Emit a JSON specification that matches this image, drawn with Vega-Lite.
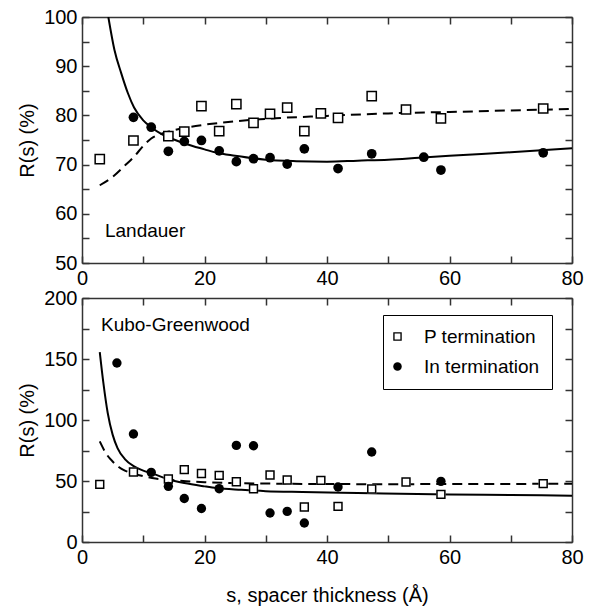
{
  "$schema": "https://vega.github.io/schema/vega-lite/v6.json",
  "padding": {"left": 17, "top": 7, "right": 17, "bottom": 5},
  "bounds": "flush",
  "spacing": 35,
  "datasets": {
    "pts": [
      {"p": "L", "series": "P termination", "s": 2.9, "R": 71.1},
      {"p": "L", "series": "P termination", "s": 8.4, "R": 74.9},
      {"p": "L", "series": "P termination", "s": 14.1, "R": 75.8},
      {"p": "L", "series": "P termination", "s": 16.7, "R": 76.7},
      {"p": "L", "series": "P termination", "s": 19.5, "R": 81.9},
      {"p": "L", "series": "P termination", "s": 22.4, "R": 76.8},
      {"p": "L", "series": "P termination", "s": 25.2, "R": 82.3},
      {"p": "L", "series": "P termination", "s": 28.0, "R": 78.5},
      {"p": "L", "series": "P termination", "s": 30.7, "R": 80.3},
      {"p": "L", "series": "P termination", "s": 33.5, "R": 81.6},
      {"p": "L", "series": "P termination", "s": 36.3, "R": 76.8},
      {"p": "L", "series": "P termination", "s": 39.0, "R": 80.4},
      {"p": "L", "series": "P termination", "s": 41.8, "R": 79.5},
      {"p": "L", "series": "P termination", "s": 47.3, "R": 83.9},
      {"p": "L", "series": "P termination", "s": 52.9, "R": 81.2},
      {"p": "L", "series": "P termination", "s": 58.6, "R": 79.4},
      {"p": "L", "series": "P termination", "s": 75.3, "R": 81.4},
      {"p": "L", "series": "In termination", "s": 8.4, "R": 79.6},
      {"p": "L", "series": "In termination", "s": 11.3, "R": 77.6},
      {"p": "L", "series": "In termination", "s": 14.1, "R": 72.7},
      {"p": "L", "series": "In termination", "s": 16.7, "R": 74.7},
      {"p": "L", "series": "In termination", "s": 19.5, "R": 74.9},
      {"p": "L", "series": "In termination", "s": 22.4, "R": 72.8},
      {"p": "L", "series": "In termination", "s": 25.2, "R": 70.6},
      {"p": "L", "series": "In termination", "s": 28.0, "R": 71.2},
      {"p": "L", "series": "In termination", "s": 30.7, "R": 71.4},
      {"p": "L", "series": "In termination", "s": 33.5, "R": 70.1},
      {"p": "L", "series": "In termination", "s": 36.3, "R": 73.2},
      {"p": "L", "series": "In termination", "s": 41.8, "R": 69.2},
      {"p": "L", "series": "In termination", "s": 47.3, "R": 72.2},
      {"p": "L", "series": "In termination", "s": 55.8, "R": 71.5},
      {"p": "L", "series": "In termination", "s": 58.6, "R": 68.9},
      {"p": "L", "series": "In termination", "s": 75.3, "R": 72.4},
      {"p": "K", "series": "P termination", "s": 2.9, "R": 47.2},
      {"p": "K", "series": "P termination", "s": 8.4, "R": 57.4},
      {"p": "K", "series": "P termination", "s": 14.1, "R": 51.6},
      {"p": "K", "series": "P termination", "s": 16.7, "R": 59.3},
      {"p": "K", "series": "P termination", "s": 19.5, "R": 56.2},
      {"p": "K", "series": "P termination", "s": 22.4, "R": 54.6},
      {"p": "K", "series": "P termination", "s": 25.2, "R": 49.4},
      {"p": "K", "series": "P termination", "s": 28.0, "R": 43.7},
      {"p": "K", "series": "P termination", "s": 30.7, "R": 54.9},
      {"p": "K", "series": "P termination", "s": 33.5, "R": 50.8},
      {"p": "K", "series": "P termination", "s": 36.3, "R": 28.7},
      {"p": "K", "series": "P termination", "s": 39.0, "R": 50.5},
      {"p": "K", "series": "P termination", "s": 41.8, "R": 29.2},
      {"p": "K", "series": "P termination", "s": 47.3, "R": 43.4},
      {"p": "K", "series": "P termination", "s": 52.9, "R": 49.2},
      {"p": "K", "series": "P termination", "s": 58.6, "R": 39.0},
      {"p": "K", "series": "P termination", "s": 75.3, "R": 47.8},
      {"p": "K", "series": "In termination", "s": 5.7, "R": 146.7},
      {"p": "K", "series": "In termination", "s": 8.4, "R": 88.5},
      {"p": "K", "series": "In termination", "s": 11.3, "R": 57.1},
      {"p": "K", "series": "In termination", "s": 14.1, "R": 45.6},
      {"p": "K", "series": "In termination", "s": 16.7, "R": 35.7},
      {"p": "K", "series": "In termination", "s": 19.5, "R": 27.5},
      {"p": "K", "series": "In termination", "s": 22.4, "R": 43.7},
      {"p": "K", "series": "In termination", "s": 25.2, "R": 79.2},
      {"p": "K", "series": "In termination", "s": 28.0, "R": 78.9},
      {"p": "K", "series": "In termination", "s": 30.7, "R": 23.8},
      {"p": "K", "series": "In termination", "s": 33.5, "R": 25.1},
      {"p": "K", "series": "In termination", "s": 36.3, "R": 15.6},
      {"p": "K", "series": "In termination", "s": 41.8, "R": 45.1},
      {"p": "K", "series": "In termination", "s": 47.3, "R": 73.8},
      {"p": "K", "series": "In termination", "s": 58.6, "R": 49.7}
    ],
    "curves": [
      {"p": "L", "c": "In", "s": 4.3, "R": 100},
      {"p": "L", "c": "In", "s": 5.3, "R": 93.3},
      {"p": "L", "c": "In", "s": 6.4, "R": 88.6},
      {"p": "L", "c": "In", "s": 7.5, "R": 84.5},
      {"p": "L", "c": "In", "s": 8.5, "R": 81.6},
      {"p": "L", "c": "In", "s": 10, "R": 79},
      {"p": "L", "c": "In", "s": 11.3, "R": 77.6},
      {"p": "L", "c": "In", "s": 13, "R": 76.2},
      {"p": "L", "c": "In", "s": 15, "R": 75.1},
      {"p": "L", "c": "In", "s": 17, "R": 74.2},
      {"p": "L", "c": "In", "s": 20, "R": 73.1},
      {"p": "L", "c": "In", "s": 22, "R": 72.4},
      {"p": "L", "c": "In", "s": 25, "R": 71.8},
      {"p": "L", "c": "In", "s": 30, "R": 71.0},
      {"p": "L", "c": "In", "s": 35, "R": 70.7},
      {"p": "L", "c": "In", "s": 40, "R": 70.6},
      {"p": "L", "c": "In", "s": 45, "R": 70.8},
      {"p": "L", "c": "In", "s": 50, "R": 71.0},
      {"p": "L", "c": "In", "s": 55, "R": 71.4},
      {"p": "L", "c": "In", "s": 60, "R": 71.8},
      {"p": "L", "c": "In", "s": 70, "R": 72.5},
      {"p": "L", "c": "In", "s": 80, "R": 73.3},
      {"p": "L", "c": "P", "s": 2.9, "R": 65.8},
      {"p": "L", "c": "P", "s": 5, "R": 67.5},
      {"p": "L", "c": "P", "s": 7, "R": 69.8},
      {"p": "L", "c": "P", "s": 8.5, "R": 71.6},
      {"p": "L", "c": "P", "s": 10, "R": 73.8},
      {"p": "L", "c": "P", "s": 11.3, "R": 75.3},
      {"p": "L", "c": "P", "s": 13, "R": 76.3},
      {"p": "L", "c": "P", "s": 15, "R": 77.0},
      {"p": "L", "c": "P", "s": 20, "R": 78.1},
      {"p": "L", "c": "P", "s": 25, "R": 78.8},
      {"p": "L", "c": "P", "s": 30, "R": 79.3},
      {"p": "L", "c": "P", "s": 40, "R": 79.9},
      {"p": "L", "c": "P", "s": 50, "R": 80.4},
      {"p": "L", "c": "P", "s": 60, "R": 80.7},
      {"p": "L", "c": "P", "s": 70, "R": 81.0},
      {"p": "L", "c": "P", "s": 80, "R": 81.3},
      {"p": "K", "c": "In", "s": 2.9, "R": 155.7},
      {"p": "K", "c": "In", "s": 3.5, "R": 130},
      {"p": "K", "c": "In", "s": 4.2, "R": 105.7},
      {"p": "K", "c": "In", "s": 5, "R": 88},
      {"p": "K", "c": "In", "s": 5.8, "R": 77},
      {"p": "K", "c": "In", "s": 7, "R": 68},
      {"p": "K", "c": "In", "s": 8.5, "R": 62},
      {"p": "K", "c": "In", "s": 10, "R": 58.5},
      {"p": "K", "c": "In", "s": 11.3, "R": 56.5},
      {"p": "K", "c": "In", "s": 14, "R": 51.5},
      {"p": "K", "c": "In", "s": 16.7, "R": 48.3},
      {"p": "K", "c": "In", "s": 20, "R": 45.6},
      {"p": "K", "c": "In", "s": 22, "R": 44.2},
      {"p": "K", "c": "In", "s": 26, "R": 42.8},
      {"p": "K", "c": "In", "s": 30, "R": 41.7},
      {"p": "K", "c": "In", "s": 36, "R": 41.0},
      {"p": "K", "c": "In", "s": 45, "R": 40.2},
      {"p": "K", "c": "In", "s": 52, "R": 39.6},
      {"p": "K", "c": "In", "s": 60, "R": 39.0},
      {"p": "K", "c": "In", "s": 70, "R": 38.5},
      {"p": "K", "c": "In", "s": 80, "R": 38.0},
      {"p": "K", "c": "P", "s": 2.9, "R": 82.5},
      {"p": "K", "c": "P", "s": 4, "R": 72},
      {"p": "K", "c": "P", "s": 5, "R": 66},
      {"p": "K", "c": "P", "s": 6, "R": 61.5},
      {"p": "K", "c": "P", "s": 7, "R": 58.5},
      {"p": "K", "c": "P", "s": 8.5, "R": 56},
      {"p": "K", "c": "P", "s": 10, "R": 54},
      {"p": "K", "c": "P", "s": 12, "R": 52},
      {"p": "K", "c": "P", "s": 14, "R": 51},
      {"p": "K", "c": "P", "s": 17, "R": 49.8},
      {"p": "K", "c": "P", "s": 20, "R": 49},
      {"p": "K", "c": "P", "s": 25, "R": 48.3},
      {"p": "K", "c": "P", "s": 30, "R": 47.9},
      {"p": "K", "c": "P", "s": 40, "R": 47.5},
      {"p": "K", "c": "P", "s": 50, "R": 47.4},
      {"p": "K", "c": "P", "s": 60, "R": 47.5},
      {"p": "K", "c": "P", "s": 70, "R": 47.6},
      {"p": "K", "c": "P", "s": 80, "R": 47.8}
    ],
    "labels": [
      {"p": "L", "s": 3.75, "R": 55.3, "text": "Landauer"},
      {"p": "K", "s": 3.1, "R": 172.6, "text": "Kubo-Greenwood"}
    ]
  },
  "vconcat": [
    {
      "width": 490,
      "height": 246,
      "resolve": {"axis": {"x": "independent", "y": "independent"}},
      "layer": [
        {
          "data": {"name": "curves"},
          "transform": [{"filter": "datum.p == 'L' && datum.c == 'In'"}],
          "mark": {"type": "line", "color": "black", "strokeWidth": 2, "interpolate": "monotone", "clip": true},
          "encoding": {
            "x": {"field": "s", "type": "quantitative", "scale": {"domain": [0, 80], "nice": false, "zero": false},
              "axis": {"orient": "bottom", "values": [0, 10, 20, 30, 40, 50, 60, 70, 80], "labelExpr": "datum.value % 20 == 0 ? datum.label : ''", "title": null}},
            "y": {"field": "R", "type": "quantitative", "scale": {"domain": [50, 100], "nice": false, "zero": false},
              "axis": {"orient": "left", "values": [50, 55, 60, 65, 70, 75, 80, 85, 90, 95, 100], "labelExpr": "datum.value % 10 == 0 ? datum.label : ''", "title": "R(s) (%)"}}
          }
        },
        {
          "data": {"name": "curves"},
          "transform": [{"filter": "datum.p == 'L' && datum.c == 'P'"}],
          "mark": {"type": "line", "color": "black", "strokeWidth": 2, "strokeDash": [10, 6], "interpolate": "monotone", "clip": true},
          "encoding": {
            "x": {"field": "s", "type": "quantitative",
              "axis": {"orient": "top", "values": [0, 10, 20, 30, 40, 50, 60, 70, 80], "labels": false, "title": null}},
            "y": {"field": "R", "type": "quantitative",
              "axis": {"orient": "right", "values": [50, 55, 60, 65, 70, 75, 80, 85, 90, 95, 100], "labels": false, "title": null}}
          }
        },
        {
          "data": {"name": "pts"},
          "transform": [{"filter": "datum.p == 'L' && datum.series == 'P termination'"}],
          "mark": {"type": "point", "shape": "square", "filled": true, "fill": "white", "stroke": "black", "strokeWidth": 1.5, "size": 85, "opacity": 1},
          "encoding": {
            "x": {"field": "s", "type": "quantitative", "axis": null},
            "y": {"field": "R", "type": "quantitative", "axis": null}
          }
        },
        {
          "data": {"name": "pts"},
          "transform": [{"filter": "datum.p == 'L' && datum.series == 'In termination'"}],
          "mark": {"type": "circle", "color": "black", "size": 95, "opacity": 1},
          "encoding": {
            "x": {"field": "s", "type": "quantitative", "axis": null},
            "y": {"field": "R", "type": "quantitative", "axis": null}
          }
        },
        {
          "data": {"name": "labels"},
          "transform": [{"filter": "datum.p == 'L'"}],
          "mark": {"type": "text", "align": "left", "baseline": "alphabetic", "fontSize": 19, "font": "Liberation Sans", "color": "black"},
          "encoding": {
            "x": {"field": "s", "type": "quantitative", "axis": null},
            "y": {"field": "R", "type": "quantitative", "axis": null},
            "text": {"field": "text"}
          }
        }
      ]
    },
    {
      "width": 490,
      "height": 244,
      "resolve": {"axis": {"x": "independent", "y": "independent"}},
      "layer": [
        {
          "data": {"name": "curves"},
          "transform": [{"filter": "datum.p == 'K' && datum.c == 'In'"}],
          "mark": {"type": "line", "color": "black", "strokeWidth": 2, "interpolate": "monotone", "clip": true},
          "encoding": {
            "x": {"field": "s", "type": "quantitative", "scale": {"domain": [0, 80], "nice": false, "zero": false},
              "axis": {"orient": "bottom", "values": [0, 10, 20, 30, 40, 50, 60, 70, 80], "labelExpr": "datum.value % 20 == 0 ? datum.label : ''", "title": "s, spacer thickness (Å)", "titlePadding": 18}},
            "y": {"field": "R", "type": "quantitative", "scale": {"domain": [0, 200], "nice": false, "zero": false},
              "axis": {"orient": "left", "values": [0, 25, 50, 75, 100, 125, 150, 175, 200], "labelExpr": "datum.value % 50 == 0 ? datum.label : ''", "title": "R(s) (%)"}}
          }
        },
        {
          "data": {"name": "curves"},
          "transform": [{"filter": "datum.p == 'K' && datum.c == 'P'"}],
          "mark": {"type": "line", "color": "black", "strokeWidth": 2, "strokeDash": [10, 6], "interpolate": "monotone", "clip": true},
          "encoding": {
            "x": {"field": "s", "type": "quantitative",
              "axis": {"orient": "top", "values": [0, 10, 20, 30, 40, 50, 60, 70, 80], "labels": false, "title": null}},
            "y": {"field": "R", "type": "quantitative",
              "axis": {"orient": "right", "values": [0, 25, 50, 75, 100, 125, 150, 175, 200], "labels": false, "title": null}}
          }
        },
        {
          "data": {"name": "pts"},
          "transform": [{"filter": "datum.p == 'K' && datum.series == 'P termination'"}],
          "mark": {"type": "point", "shape": "square", "filled": true, "fill": "white", "strokeWidth": 0, "size": 85, "opacity": 1},
          "encoding": {
            "x": {"field": "s", "type": "quantitative", "axis": null},
            "y": {"field": "R", "type": "quantitative", "axis": null}
          }
        },
        {
          "data": {"name": "pts"},
          "transform": [{"filter": "datum.p == 'K'"}],
          "mark": {"type": "point", "filled": true, "color": "black", "strokeWidth": 0, "size": 88, "opacity": 1},
          "encoding": {
            "x": {"field": "s", "type": "quantitative", "axis": null},
            "y": {"field": "R", "type": "quantitative", "axis": null},
            "shape": {"field": "series", "type": "nominal",
              "scale": {"domain": ["P termination", "In termination"], "range": ["M-1,-1H1V1H-1Z M-0.68,-0.68V0.68H0.68V-0.68Z", "circle"]},
              "legend": {"title": null, "orient": "none", "legendX": 301, "legendY": 298, "symbolOffset": -7, "labelOffset": 17, "symbolSize": 72}}
          }
        },
        {
          "data": {"name": "labels"},
          "transform": [{"filter": "datum.p == 'K'"}],
          "mark": {"type": "text", "align": "left", "baseline": "alphabetic", "fontSize": 19, "font": "Liberation Sans", "color": "black"},
          "encoding": {
            "x": {"field": "s", "type": "quantitative", "axis": null},
            "y": {"field": "R", "type": "quantitative", "axis": null},
            "text": {"field": "text"}
          }
        }
      ]
    }
  ],
  "config": {
    "font": "Liberation Sans",
    "view": {"stroke": null},
    "axis": {
      "labelFont": "Liberation Sans", "labelFontSize": 20, "labelColor": "black",
      "titleFont": "Liberation Sans", "titleFontSize": 20, "titleFontWeight": "normal", "titleColor": "black",
      "domainColor": "#333", "domainWidth": 1.5, "tickColor": "#333", "tickWidth": 1.5, "tickSize": -7,
      "grid": false, "labelPadding": 12, "labelFlush": false, "labelOverlap": false, "titlePadding": 6
    },
    "legend": {
      "strokeColor": "black", "fillColor": "white", "padding": 12, "labelFontSize": 19, "labelFont": "Liberation Sans",
      "labelColor": "black", "symbolStrokeWidth": 0,
      "rowPadding": 10, "cornerRadius": 0
    }
  }
}
